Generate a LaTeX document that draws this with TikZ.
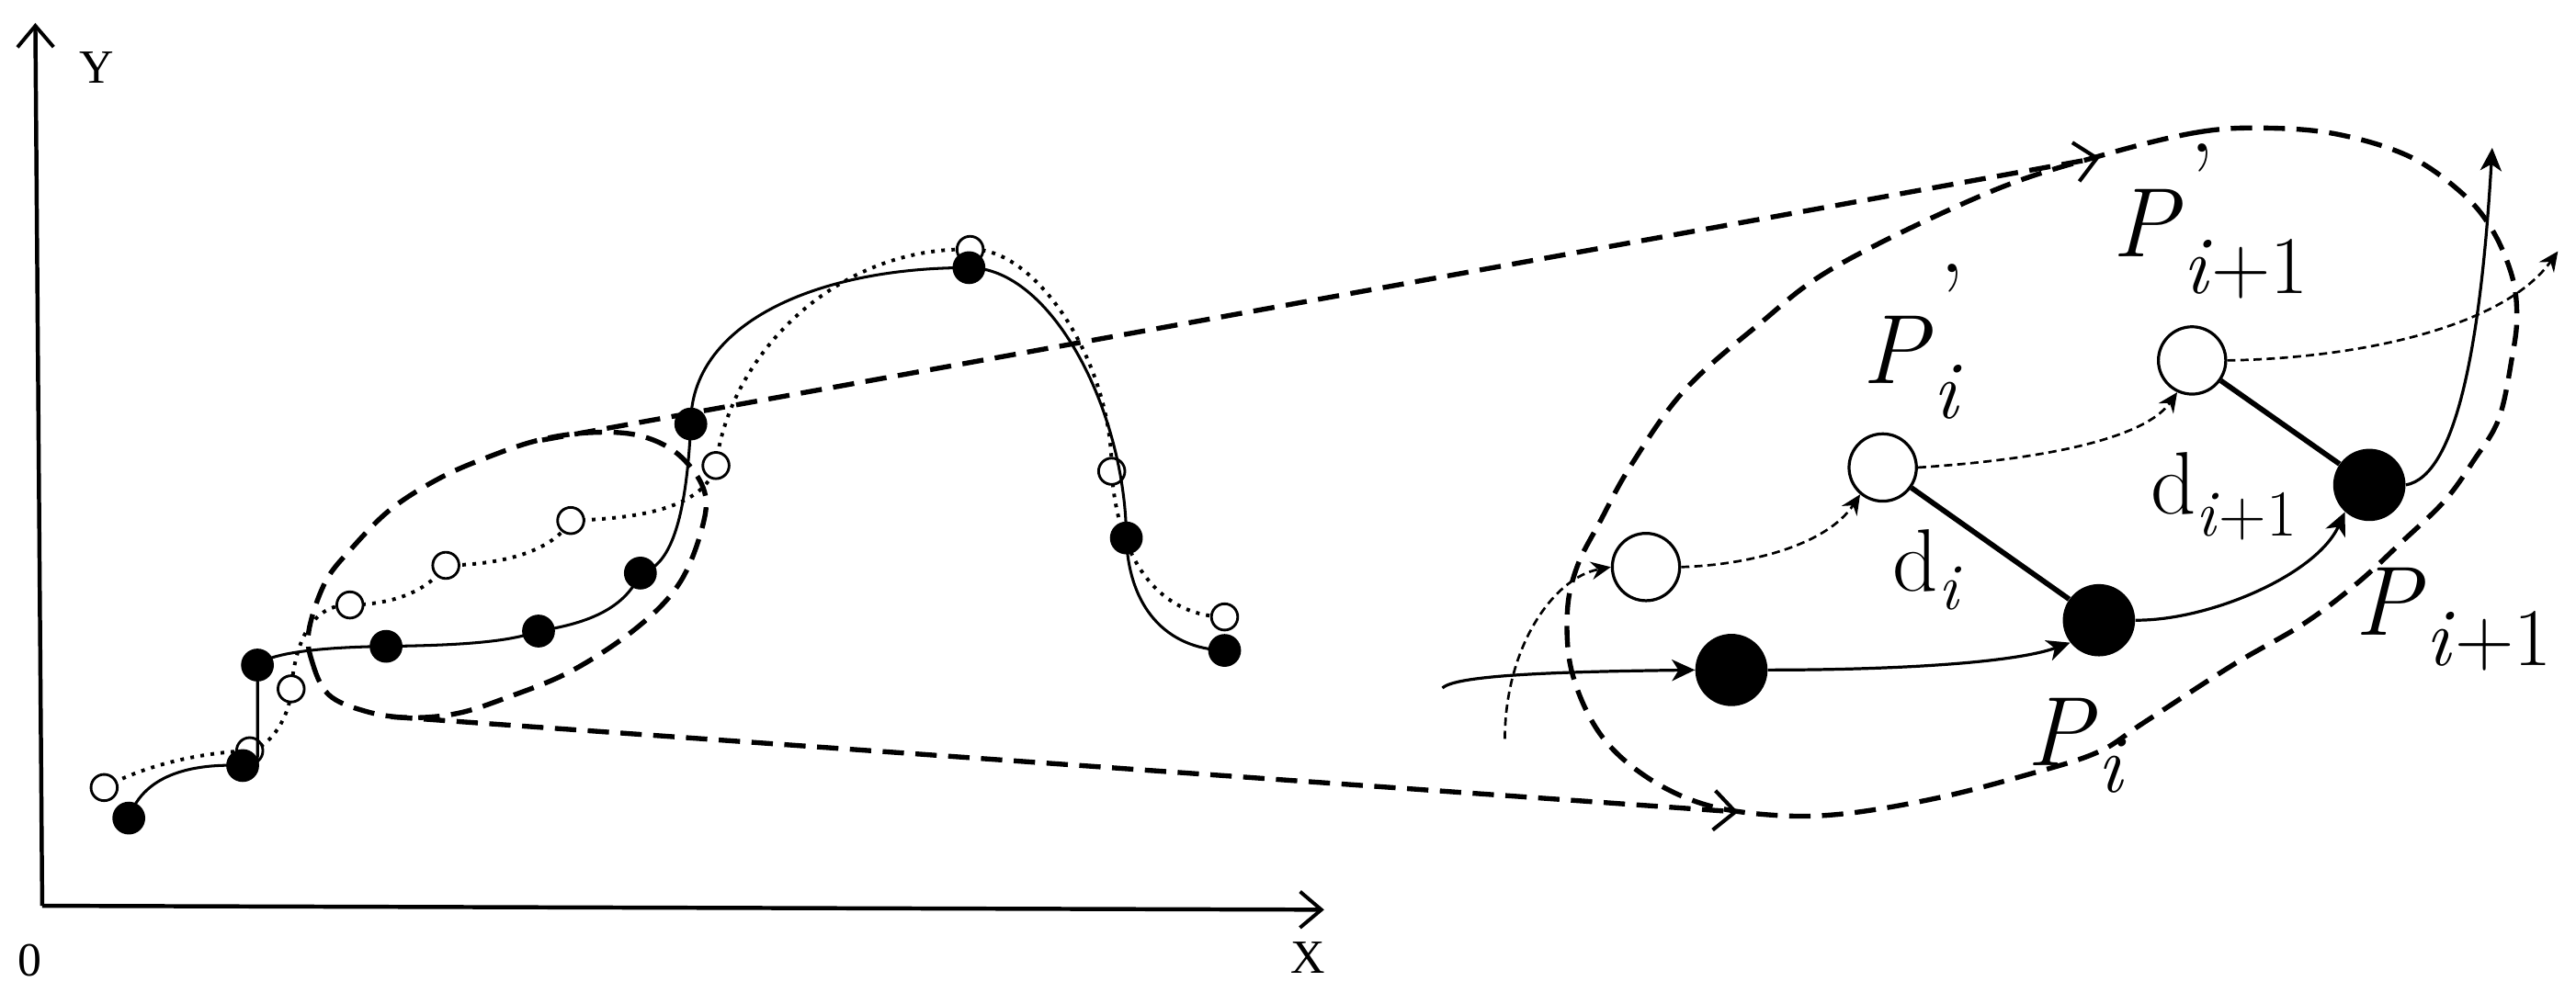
\documentclass[tikz,border=0pt]{standalone}
\usepackage{fontspec}
\newfontfamily\tms{Liberation Serif}
\usetikzlibrary{arrows.meta,calc}
\newcommand\subfont{\fontsize{50}{50}\selectfont}
\newcommand\primefont{\fontsize{62}{62}\selectfont}
\newcommand\dsubfont{\fontsize{40}{40}\selectfont}
\begin{document}
\begin{tikzpicture}[x=1pt,y=-1pt,
  fdot/.style={circle,fill=black,inner sep=0pt,minimum size=20pt},
  odot/.style={circle,draw=black,fill=white,line width=1.6pt,inner sep=0pt,minimum size=16pt},
  fbig/.style={circle,fill=black,inner sep=0pt,minimum size=44pt},
  obig/.style={circle,draw=black,fill=white,line width=1.8pt,inner sep=0pt,minimum size=41pt},
  axis/.style={line width=2.5pt,-{Straight Barb[length=13pt,width=22pt,line width=2.2pt]}},
  curve/.style={line width=1.7pt},
  dotc/.style={line width=2.2pt,dash pattern=on 2.2pt off 4pt},
  bigdash/.style={line width=3pt,dash pattern=on 13pt off 7pt},
  bigarrow/.style={bigdash,-{Straight Barb[length=13pt,width=24pt,line width=2.3pt]}},
  thinarrow/.style={line width=1.8pt,-{Stealth[length=14pt,width=13pt,inset=4pt]}},
  dasharrow/.style={line width=1.5pt,dash pattern=on 5pt off 3pt,-{Stealth[length=12pt,width=11pt,inset=4pt]}},
  link/.style={line width=3.2pt},
  axlab/.style={inner sep=0pt,font=\tms\fontsize{29}{29}\selectfont},
  plab/.style={anchor=base west,inner sep=0pt,font=\fontsize{60}{60}\selectfont},
  dlab/.style={anchor=base west,inner sep=0pt,font=\fontsize{54}{54}\selectfont}
]
\useasboundingbox (0,0) rectangle (1568,611);

% ---------- axes ----------
\coordinate (O) at (25.7,551.6);
\coordinate (ytop) at (21.5,14);
\coordinate (xend) at (806,554);
\draw[axis] (O) -- (ytop);
\draw[axis] (O) -- (xend);
\node[axlab,anchor=base west] (ylab) at (48,50.4) {Y};
\node[axlab] (zlab) at (18,585) {0};
\node[axlab] (xlab) at (796,583) {X};

% ---------- left point coordinates ----------
\coordinate (F1) at (78.4,498.2);
\coordinate (F2) at (147.7,466.2);
\coordinate (F3) at (156.7,405);
\coordinate (F4) at (235,393.6);
\coordinate (F5) at (327.8,384.3);
\coordinate (F6) at (389.8,349);
\coordinate (F7) at (420.5,258.2);
\coordinate (F8) at (589.8,163);
\coordinate (F9) at (685.6,327.6);
\coordinate (F10) at (745.4,396.1);
\coordinate (O1) at (63.4,479.6);
\coordinate (O2) at (152,457.2);
\coordinate (O3) at (177.2,419.5);
\coordinate (O4) at (213,368.4);
\coordinate (O5) at (271.4,344.3);
\coordinate (O6) at (347.4,317);
\coordinate (O7) at (435.8,283.5);
\coordinate (O8) at (590.5,151.9);
\coordinate (O9) at (676.7,287);
\coordinate (O10) at (745.4,375.7);

% ---------- left dashed ellipse ----------
\draw[bigdash] plot[smooth cycle,tension=0.6] coordinates {
 (188,384) (190,403) (200,423) (222,433) (248,437) (278,434.5) (308,425)
 (348,408.5) (388,382) (414,354.5) (428,319) (428,297) (412,276) (388,265)
 (358,263.5) (328,268) (298,278) (268,291) (238,310) (214,334) (198,354.5)};

% ---------- connecting dashed lines ----------
\coordinate (u0) at (330,268);
\coordinate (u1) at (1278,96);
\coordinate (l0) at (238,436.5);
\coordinate (l1) at (1058,494.5);
\draw[bigarrow] (u0) -- (u1);
\draw[bigarrow] (l0) -- (l1);

% ---------- right dashed ellipse ----------
\draw[bigdash] plot[smooth cycle,tension=0.6] coordinates {
 (1278,95) (1338,80.5) (1381,78) (1424,82) (1467,95.5) (1499,118) (1517,140)
 (1529,168) (1532,193) (1529,218) (1521,255) (1506,280) (1488,305) (1462,330)
 (1435,355) (1402,380) (1359,405) (1305,440) (1277,458) (1235,471.5) (1179,486)
 (1123,495.5) (1081,496.5) (1038,490) (1002,473) (974,447) (957,410) (954,373)
 (960,345) (974,317.5) (993,283) (1025,238) (1070,198) (1118,162) (1211,117)};

% ---------- left curves ----------
\draw[dotc] (O1) .. controls (90,465) and (125,458) .. (O2)
  .. controls (165,455) and (177,435) .. (O3)
  .. controls (180,390) and (190,368) .. (O4)
  .. controls (240,368) and (260,360) .. (O5)
  .. controls (300,344) and (335,338) .. (O6)
  .. controls (380,316) and (428,312) .. (O7)
  .. controls (444,215) and (510,150) .. (O8)
  .. controls (630,150) and (677,220) .. (O9)
  .. controls (680,340) and (705,375) .. (O10);

\foreach \p in {O1,O2,O3,O4,O5,O6,O7,O8,O9,O10}
  \node[odot] (n\p) at (\p) {};

\draw[curve] (F1) .. controls (88,470) and (120,465) .. (F2)
  -- (F2 -| F3) -- (F3)
  .. controls (165,397) and (200,394) .. (F4)
  .. controls (280,393) and (310,391) .. (F5)
  .. controls (355,380) and (380,372) .. (F6)
  .. controls (410,345) and (418,310) .. (F7)
  .. controls (420,198) and (495,163) .. (F8)
  .. controls (640,163) and (685,250) .. (F9)
  .. controls (687,370) and (710,395) .. (F10);

\foreach \p in {F1,F2,F4,F5,F6,F7,F8,F9,F10}
  \node[fdot] (n\p) at (\p) {};
\node[fdot] (nF3) at (F3) {};
\draw[curve] ($(F2 -| F3)+(0,-5)$) -- (nF3.south);

% ---------- right part ----------
\node[obig] (A) at (1001.9,345.3) {};
\node[obig] (B) at (1146,284.7) {};
\node[obig] (C) at (1334.3,219.5) {};
\node[fbig] (D) at (1053.9,408) {};
\node[fbig] (E) at (1277.6,377.7) {};
\node[fbig] (F) at (1442.2,295.3) {};

\draw[link] (B) -- (E);
\draw[link] (C) -- (F);

\coordinate (s1) at (878,419);
\coordinate (t4) at (1517,90);
\coordinate (s5) at (916,450);
\coordinate (t8) at (1557,153);

\draw[thinarrow] (s1) .. controls (886,411) and (950,409) .. (D.west);
\draw[thinarrow] (D.east) .. controls (1150,408) and (1225,404) .. (E.218);
\draw[thinarrow] (E.east) .. controls (1345,378) and (1410,350) .. (F.228);
\draw[thinarrow] (F.east) .. controls (1495,290) and (1510,210) .. (t4);

\draw[dasharrow] (s5) .. controls (916,395) and (945,352) .. (A.west);
\draw[dasharrow] (A.east) .. controls (1065,344) and (1112,332) .. (B.230);
\draw[dasharrow] (B.east) .. controls (1240,280) and (1305,268) .. (C.245);
\draw[dasharrow] (C.east) .. controls (1440,218) and (1525,198) .. (t8);

% ---------- labels ----------
\node[plab] (LB) at (1133.5,233.7)
  {\textit{P}\rlap{\kern4pt\raisebox{30pt}{\primefont ’}}\raisebox{-21pt}{\subfont\textit{i}}};
\node[plab] (LC) at (1285.6,156.5)
  {\textit{P}\rlap{\kern4pt\raisebox{26pt}{\primefont ’}}\raisebox{-22pt}{\subfont\textit{i}+1}};
\node[dlab] (LD1) at (1152,360) {d\raisebox{-11pt}{\dsubfont\textit{i}}};
\node[dlab] (LD2) at (1309,312.8) {d\raisebox{-13.7pt}{\dsubfont\textit{i}+1}};
\node[plab] (LE) at (1233.8,466) {\textit{P}\raisebox{-16.6pt}{\subfont\textit{i}}};
\node[plab] (LF) at (1433.5,387) {\textit{P}\raisebox{-18pt}{\subfont\textit{i}+1}};
\end{tikzpicture}
\end{document}
